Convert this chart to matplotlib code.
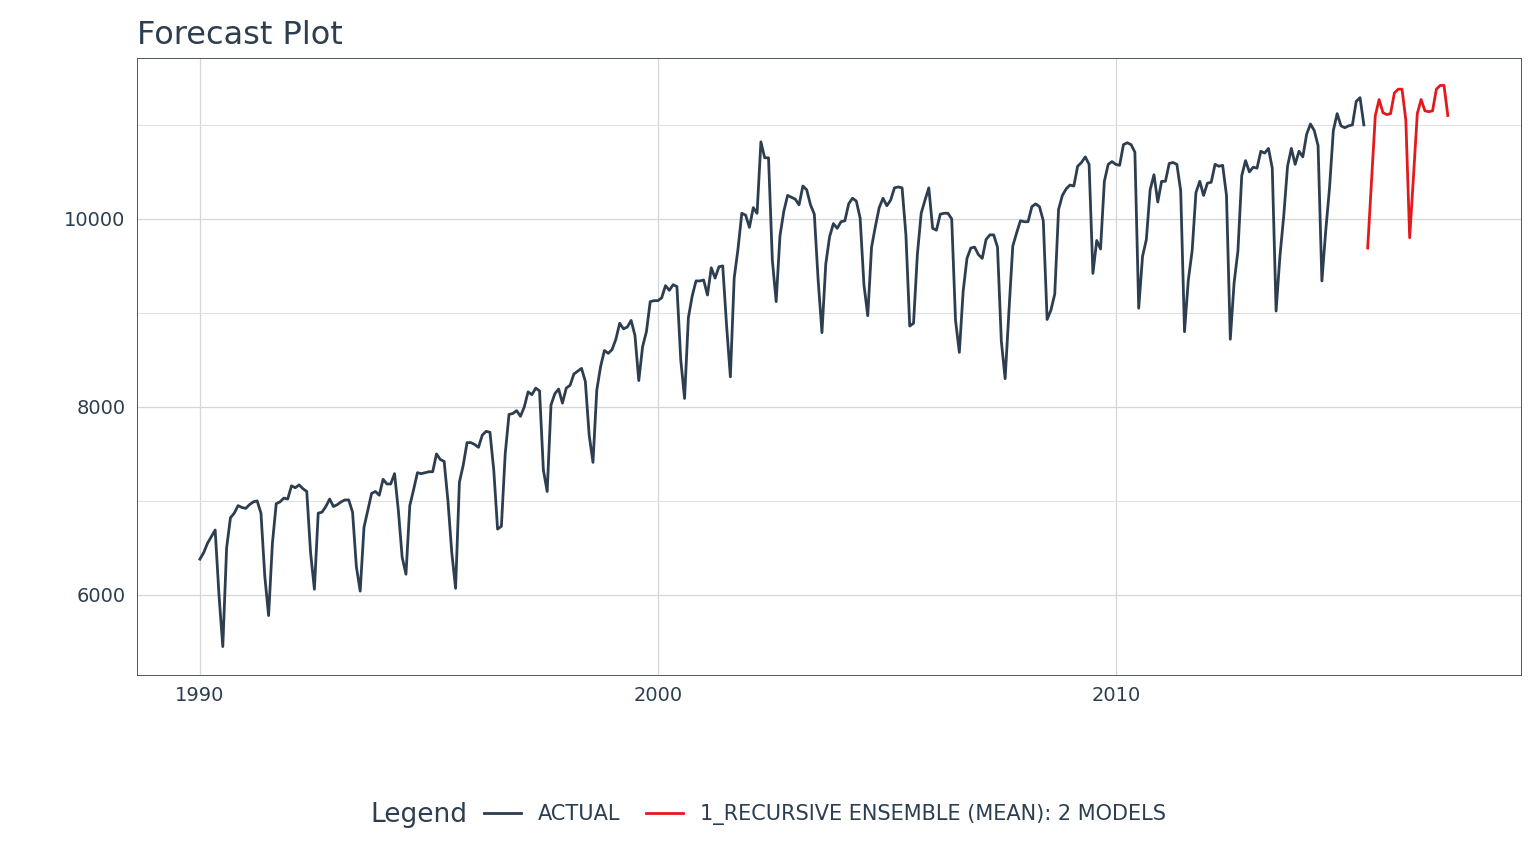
import numpy as np
import pandas as pd
import matplotlib.pyplot as plt

# monthly actuals, Jan 1990 - Jun 2015
actual_by_year = {
    1990: [6380, 6450, 6550, 6620, 6690, 6000, 5450, 6500, 6820, 6870, 6950, 6930],
    1991: [6920, 6960, 6990, 7000, 6870, 6200, 5780, 6550, 6970, 6990, 7030, 7020],
    1992: [7160, 7140, 7170, 7130, 7100, 6450, 6060, 6870, 6880, 6940, 7020, 6940],
    1993: [6960, 6990, 7010, 7010, 6880, 6300, 6040, 6720, 6900, 7080, 7100, 7060],
    1994: [7230, 7180, 7180, 7290, 6900, 6400, 6220, 6950, 7120, 7300, 7290, 7300],
    1995: [7310, 7310, 7500, 7440, 7420, 7000, 6450, 6070, 7200, 7380, 7620, 7620],
    1996: [7600, 7570, 7700, 7740, 7730, 7330, 6700, 6730, 7500, 7920, 7930, 7960],
    1997: [7900, 8000, 8160, 8130, 8200, 8170, 7330, 7100, 8020, 8140, 8190, 8040],
    1998: [8200, 8230, 8350, 8380, 8410, 8270, 7700, 7410, 8180, 8430, 8600, 8570],
    1999: [8610, 8720, 8890, 8830, 8850, 8920, 8760, 8280, 8640, 8800, 9120, 9130],
    2000: [9130, 9160, 9290, 9240, 9300, 9280, 8500, 8090, 8950, 9180, 9340, 9340],
    2001: [9350, 9190, 9480, 9370, 9490, 9500, 8870, 8320, 9370, 9680, 10060, 10040],
    2002: [9910, 10120, 10060, 10820, 10650, 10650, 9560, 9120, 9820, 10080, 10250, 10230],
    2003: [10210, 10150, 10350, 10310, 10150, 10050, 9350, 8790, 9520, 9810, 9950, 9900],
    2004: [9970, 9980, 10160, 10220, 10190, 10010, 9300, 8970, 9700, 9920, 10120, 10220],
    2005: [10140, 10200, 10330, 10340, 10330, 9830, 8860, 8890, 9620, 10060, 10200, 10330],
    2006: [9900, 9880, 10050, 10060, 10060, 10000, 8920, 8580, 9230, 9580, 9690, 9700],
    2007: [9620, 9580, 9780, 9830, 9830, 9700, 8700, 8300, 9020, 9710, 9850, 9980],
    2008: [9970, 9970, 10130, 10160, 10130, 9980, 8930, 9030, 9200, 10100, 10250, 10320],
    2009: [10360, 10350, 10560, 10600, 10660, 10580, 9420, 9770, 9680, 10400, 10580, 10610],
    2010: [10580, 10570, 10790, 10810, 10790, 10710, 9050, 9600, 9780, 10310, 10470, 10180],
    2011: [10400, 10400, 10590, 10600, 10580, 10300, 8800, 9350, 9660, 10280, 10400, 10250],
    2012: [10380, 10390, 10580, 10560, 10570, 10250, 8720, 9320, 9660, 10460, 10620, 10500],
    2013: [10550, 10540, 10720, 10700, 10750, 10540, 9020, 9600, 10030, 10560, 10750, 10580],
    2014: [10720, 10660, 10900, 11010, 10940, 10780, 9340, 9870, 10330, 10940, 11120, 10990],
    2015: [10970, 10990, 11000, 11250, 11290, 11000],
}
forecast_values = [9690, 10400, 11100, 11270, 11130, 11110, 11120, 11340, 11380, 11380, 11050,
                   9800, 10450, 11120, 11270, 11150, 11140, 11150, 11380, 11420, 11420, 11100]

actual_values = [v for y in sorted(actual_by_year) for v in actual_by_year[y]]
actual_dates = pd.date_range("1990-01-01", periods=len(actual_values), freq="MS")
fc_dates = pd.date_range(actual_dates[-1] + pd.DateOffset(months=1), periods=len(forecast_values), freq="MS")

def dec_year(d):
    return d.year + (d.month - 1) / 12

dark = "#2c3e50"
plt.rcParams["font.family"] = ["DejaVu Sans"]
fig, ax = plt.subplots(figsize=(15.36, 8.64), dpi=100)
fig.subplots_adjust(left=0.089, right=0.990, top=0.933, bottom=0.219)

ax.plot(dec_year(actual_dates), actual_values, color=dark, lw=2, label="ACTUAL")
ax.plot(dec_year(fc_dates), forecast_values, color="#e31a1c", lw=2,
        label="1_RECURSIVE ENSEMBLE (MEAN): 2 MODELS")

ax.set_xlim(1988.62, 2018.84)
ax.set_ylim(5150, 11713)
ax.set_xticks([1990, 2000, 2010])
ax.set_yticks([6000, 8000, 10000])
ax.set_yticks([7000, 9000, 11000], minor=True)
ax.grid(True, which="major", color="#d6d6d6", lw=0.9)
ax.grid(True, which="minor", axis="y", color="#e0e0e0", lw=0.7)
ax.set_axisbelow(True)
for s in ax.spines.values():
    s.set_color(dark)
    s.set_linewidth(0.6)
ax.tick_params(which="both", length=0, labelsize=14, labelcolor=dark, pad=8)
ax.set_title("Forecast Plot", loc="left", fontsize=23, color=dark, pad=10)

leg = fig.legend(loc="lower center", bbox_to_anchor=(0.5, 0.02), ncol=2, frameon=False,
                 title="Legend", fontsize=15, title_fontsize=19, handlelength=1.8,
                 columnspacing=1.2)
leg._legend_box.align = "left"
for t in leg.get_texts():
    t.set_color(dark)
leg.get_title().set_color(dark)
# put the title inline with the entries
from matplotlib.offsetbox import HPacker
box = leg._legend_box
box._children = [HPacker(children=box.get_children(), align="center", pad=0, sep=12)]

fig.savefig("out.png", dpi=100)
